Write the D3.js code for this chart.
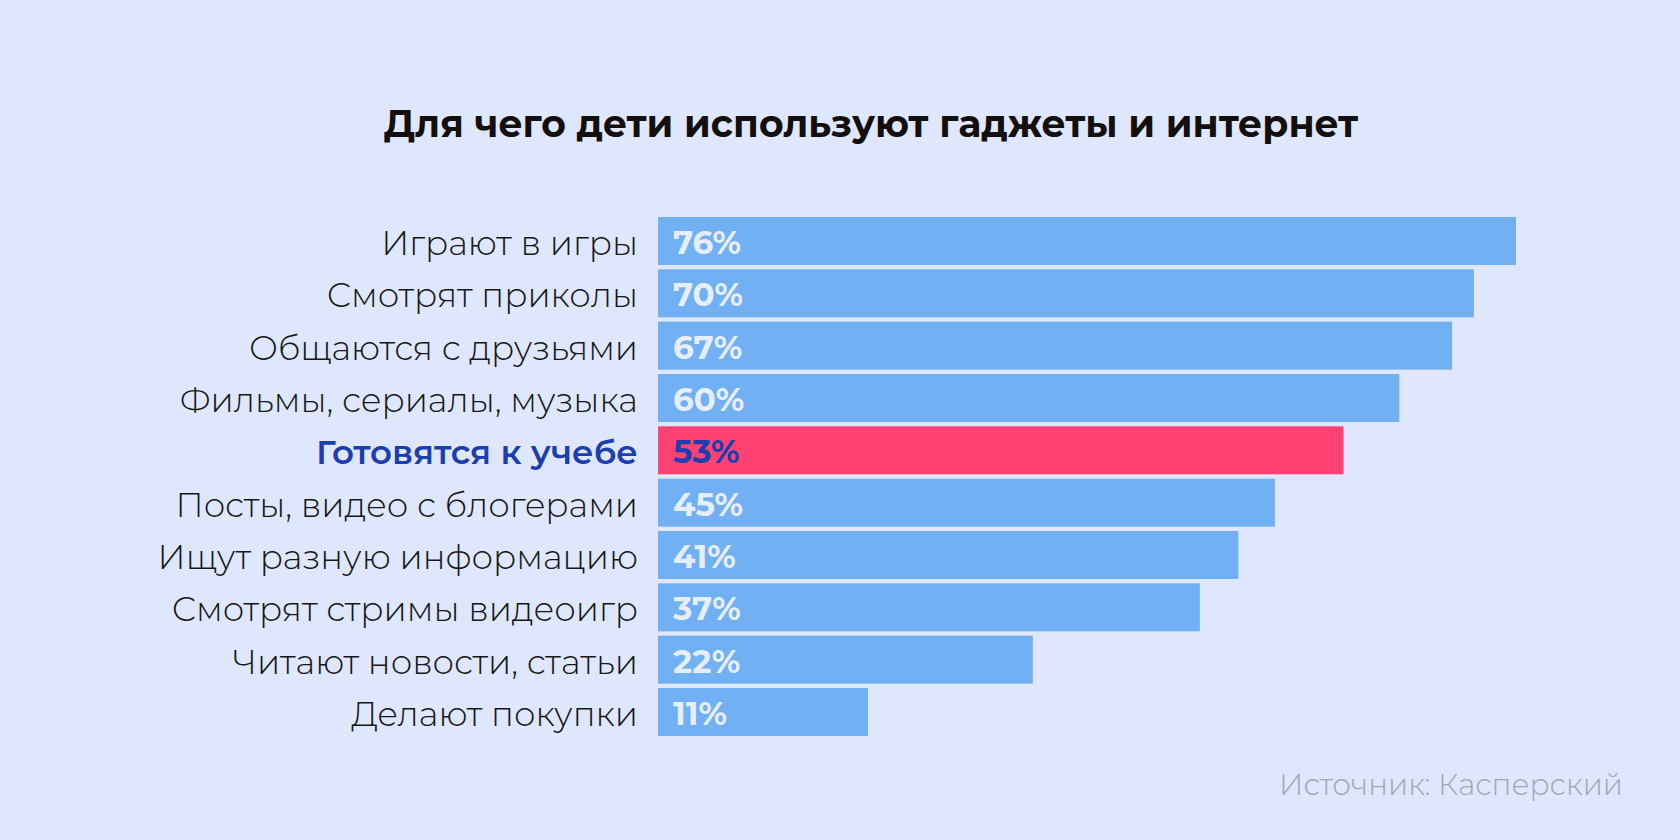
<!DOCTYPE html>
<html>
<head>
<meta charset="utf-8">
<script src="https://cdn.jsdelivr.net/npm/d3@7"></script>
<style>
  html, body { margin: 0; padding: 0; background: #dee7fd; }
  svg { display: block; }
</style>
</head>
<body>
<svg id="chart"></svg>
<script>
const categories = [
  "Играют в игры",
  "Смотрят приколы",
  "Общаются с друзьями",
  "Фильмы, сериалы, музыка",
  "Готовятся к учебе",
  "Посты, видео с блогерами",
  "Ищут разную информацию",
  "Смотрят стримы видеоигр",
  "Читают новости, статьи",
  "Делают покупки"
];
const values = [76, 70, 67, 60, 53, 45, 41, 37, 22, 11];
const highlighted = ["Готовятся к учебе"];

const title = "Для чего дети используют гаджеты и интернет";
const source = "Источник: Касперский";

const width = 1680;
const height = 840;
const font = "Montserrat, 'Open Sans', 'Noto Sans', sans-serif";

const data = categories.map((c, i) => ({ name: c, value: values[i] }));

const svg = d3.select("#chart")
  .attr("width", width)
  .attr("height", height);

svg.append("rect")
  .attr("width", width)
  .attr("height", height)
  .attr("fill", "#dee7fd");

const barLeft = 658;

const y = d3.scaleBand()
  .domain(categories)
  .range([217, 736])
  .paddingInner(0.083)
  .paddingOuter(0);

// the original bars are not proportional; a sqrt scale over the data range follows them
const x = d3.scaleSqrt()
  .domain(d3.extent(values))
  .range([barLeft + 210, 1516]);

// title
svg.append("text")
  .attr("x", 871)
  .attr("y", 137)
  .attr("text-anchor", "middle")
  .style("font-family", font)
  .style("font-weight", 700)
  .style("font-size", "37.7px")
  .attr("fill", "#140f0c")
  .text(title);

const rows = svg.append("g")
  .selectAll("g")
  .data(data)
  .enter()
  .append("g");

rows.append("rect")
  .attr("x", barLeft)
  .attr("y", d => y(d.name))
  .attr("width", d => x(d.value) - barLeft)
  .attr("height", y.bandwidth())
  .attr("fill", d => highlighted.includes(d.name) ? "#ff4174" : "#72b0f4");

rows.append("text")
  .attr("x", barLeft - 20)
  .attr("y", d => y(d.name) + y.bandwidth() / 2 + 14)
  .attr("text-anchor", "end")
  .style("font-family", font)
  .style("font-weight", d => highlighted.includes(d.name) ? 600 : 300)
  .style("font-size", "34px")
  .attr("fill", d => highlighted.includes(d.name) ? "#1b3fb0" : "#161616")
  .text(d => d.name);

rows.append("text")
  .attr("x", barLeft + 15)
  .attr("y", d => y(d.name) + y.bandwidth() / 2 + 13)
  .style("font-family", font)
  .style("font-weight", 700)
  .style("font-size", "32.5px")
  .attr("fill", d => highlighted.includes(d.name) ? "#1b3fb0" : "#e6edfc")
  .text(d => d.value + "%");

// source note
svg.append("text")
  .attr("x", 1623)
  .attr("y", 795)
  .attr("text-anchor", "end")
  .style("font-family", font)
  .style("font-weight", 300)
  .style("font-size", "29.5px")
  .attr("fill", "#a3a6b2")
  .text(source);
</script>
</body>
</html>
